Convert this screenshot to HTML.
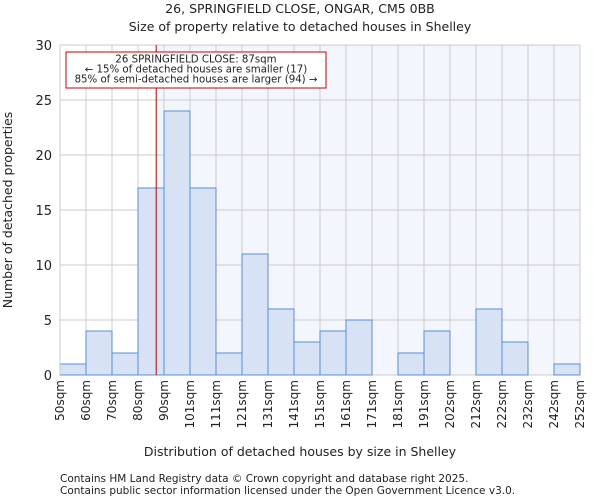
<!DOCTYPE html>
<html><head><meta charset="utf-8"><style>
body{margin:0;background:#fff;font-family:"DejaVu Sans","Liberation Sans",sans-serif;}
svg text{font-family:"DejaVu Sans","Liberation Sans",sans-serif;fill:#222;}
</style></head><body>
<svg id="c" width="600" height="500" xmlns="http://www.w3.org/2000/svg">
<text x="300" y="13" text-anchor="middle" font-size="12.5">26, SPRINGFIELD CLOSE, ONGAR, CM5 0BB</text>
<text x="300" y="31" text-anchor="middle" font-size="12.5">Size of property relative to detached houses in Shelley</text>
<g id="plot"></g>
<text x="300" y="456" text-anchor="middle" font-size="12.5">Distribution of detached houses by size in Shelley</text>
<text transform="translate(12,210) rotate(-90)" text-anchor="middle" font-size="12.5">Number of detached properties</text>
<text x="60" y="482" font-size="10.5">Contains HM Land Registry data © Crown copyright and database right 2025.</text>
<text x="60" y="494" font-size="10.5">Contains public sector information licensed under the Open Government Licence v3.0.</text>
</svg>
<script>
const binLabels=["50sqm","60sqm","70sqm","80sqm","90sqm","101sqm","111sqm","121sqm","131sqm","141sqm","151sqm","161sqm","171sqm","181sqm","191sqm","202sqm","212sqm","222sqm","232sqm","242sqm","252sqm"];
const counts=[1,4,2,17,24,17,2,11,6,3,4,5,0,2,4,0,6,3,0,1];
const yTicks=[0,5,10,15,20,25,30];
const subjectBin=3.7;
const NS="http://www.w3.org/2000/svg";
const L=60,R=580,T=45,B=375,yMax=30;
const bw=(R-L)/counts.length;
const x=i=>L+i*bw;
const y=v=>B-(v/yMax)*(B-T);
const g=document.getElementById('plot');
function mk(t,a){const e=document.createElementNS(NS,t);for(const k in a)e.setAttribute(k,a[k]);g.appendChild(e);return e;}
const lx=x(subjectBin);
let e=mk('rect',{x:lx,y:T,width:R-lx,height:B-T,fill:'#f3f6fd'});


yTicks.forEach(t=>{
 const l=mk('line',{x1:L,x2:R,y1:y(t),y2:y(t),stroke:'#ccc','stroke-width':1});
 
 
 const tx=mk('text',{x:L-8,y:y(t)+5,'text-anchor':'end','font-size':13});
 tx.textContent=t;
 
 
});
binLabels.forEach((s,i)=>{
 const l=mk('line',{x1:x(i),x2:x(i),y1:T,y2:B,stroke:'#ccc','stroke-width':1});
 
 
 const tx=mk('text',{transform:`translate(${x(i)+4},${B+5}) rotate(-90)`,'text-anchor':'end','font-size':12});
 tx.textContent=s;
 
 
});
counts.forEach((v,i)=>{
 if(v<=0)return;
 const r=mk('rect',{x:x(i),y:y(v),width:bw,height:B-y(v),fill:'#d7e2f4',stroke:'#5a8fd6','stroke-width':1});
 
 
});
e=mk('line',{x1:L,x2:L,y1:T,y2:B,stroke:'#ccc'});


e=mk('line',{x1:lx,x2:lx,y1:T,y2:B,stroke:'#b00','stroke-width':1});


e=mk('rect',{x:66,y:52,width:260,height:36,fill:'#fff',stroke:'#c00','stroke-width':1});


["26 SPRINGFIELD CLOSE: 87sqm","← 15% of detached houses are smaller (17)","85% of semi-detached houses are larger (94) →"].forEach((s,i)=>{
 const t=mk('text',{x:196,y:62.5+i*10,'text-anchor':'middle','font-size':10.2});
 t.textContent=s;
 
 
});
</script>
</body></html>
